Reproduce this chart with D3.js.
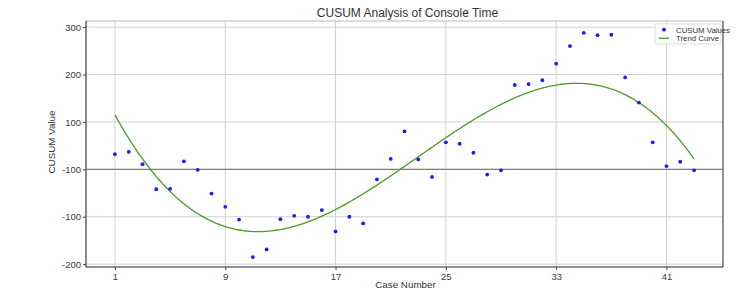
<!DOCTYPE html>
<html><head><meta charset="utf-8">
<script src="https://cdn.jsdelivr.net/npm/d3@7"></script>
<style>
html,body{margin:0;padding:0;background:#fff;}
text{font-family:"Liberation Sans",Arial,sans-serif;}
</style></head>
<body><svg id="c" width="750" height="297"></svg>
<script>
const caseNumbers = d3.range(1, 44);
const cusumValues = [32,37,11,-42,-41,17,-1,-51,-79,-106,-185,-169,-105,-98,-100,-86,-131,-100,-114,-21,22,80,21,-16,57,54,35,-11,-2,178,180,188,223,260,288,283,284,194,141,57,7,16,-2];
const xTickValues = [1,9,17,25,33,41];
const yTickValues = [300,200,100,0,-100,-200];
const yTickLabels = ["300","200","100","-100","-100","-200"];

// cubic least-squares trend computed from the data
function polyfit(xs, ys, deg){
  const n = deg+1;
  const A = Array.from({length:n},()=>new Array(n+1).fill(0));
  for(let k=0;k<xs.length;k++){
    for(let i=0;i<n;i++){
      for(let j=0;j<n;j++) A[i][j]+=Math.pow(xs[k],i+j);
      A[i][n]+=ys[k]*Math.pow(xs[k],i);
    }
  }
  for(let i=0;i<n;i++){
    let p=i; for(let r=i+1;r<n;r++) if(Math.abs(A[r][i])>Math.abs(A[p][i])) p=r;
    [A[i],A[p]]=[A[p],A[i]];
    for(let r=0;r<n;r++){ if(r===i) continue; const f=A[r][i]/A[i][i]; for(let c=i;c<=n;c++) A[r][c]-=f*A[i][c]; }
  }
  return A.map((row,i)=>row[n]/row[i]);
}
const coef = polyfit(caseNumbers, cusumValues, 3);
const trendX = d3.range(1, 43.001, 0.1);
const trend = trendX.map(x=>({x, y: coef.reduce((s,c,i)=>s+c*Math.pow(x,i),0)}));

const svg = d3.select("#c");
const L=86, R=723, T=21, B=267;
const xExt = d3.extent(caseNumbers), xPad=(xExt[1]-xExt[0])*0.05;
const x = d3.scaleLinear().domain([xExt[0]-xPad, xExt[1]+xPad]).range([L,R]);
const y = d3.scaleLinear().domain([-206, 313]).range([B,T]);

// grid
svg.append("g").selectAll("line").data(xTickValues).join("line")
  .attr("x1",d=>x(d)).attr("x2",d=>x(d)).attr("y1",T).attr("y2",B)
  .attr("stroke","#d0d0d0").attr("stroke-width",1);
svg.append("g").selectAll("line").data(yTickValues).join("line")
  .attr("x1",L).attr("x2",R).attr("y1",d=>y(d)).attr("y2",d=>y(d))
  .attr("stroke","#d0d0d0").attr("stroke-width",1);

// zero line
svg.append("line").attr("x1",L).attr("x2",R).attr("y1",y(0)).attr("y2",y(0))
  .attr("stroke","#808080").attr("stroke-width",1.2);

// frame
svg.append("rect").attr("x",L).attr("y",T).attr("width",R-L).attr("height",B-T)
  .attr("fill","none").attr("stroke","#bbb").attr("stroke-width",1);
svg.append("line").attr("x1",L).attr("x2",L).attr("y1",T).attr("y2",B).attr("stroke","#444").attr("stroke-width",1.1);
svg.append("line").attr("x1",L).attr("x2",R).attr("y1",B).attr("y2",B).attr("stroke","#444").attr("stroke-width",1.1);
svg.append("line").attr("x1",R).attr("x2",R).attr("y1",T).attr("y2",B).attr("stroke","#555").attr("stroke-width",1.1);

// axes
const xAxis = d3.axisBottom(x).tickValues(xTickValues).tickSize(3).tickPadding(3);
const gx = svg.append("g").attr("transform",`translate(0,${B})`).call(xAxis);
gx.select(".domain").remove();
gx.selectAll("line").attr("stroke","#444");
gx.selectAll("text").attr("fill","#3a3a3a").attr("font-size",9.5);

const yAxis = d3.axisLeft(y).tickValues(yTickValues).tickFormat((d,i)=>yTickLabels[i]).tickSize(3).tickPadding(2);
const gy = svg.append("g").attr("transform",`translate(${L},0)`).call(yAxis);
gy.select(".domain").remove();
gy.selectAll("line").attr("stroke","#444");
gy.selectAll("text").attr("fill","#3a3a3a").attr("font-size",9.5);

// trend
svg.append("path").datum(trend)
  .attr("d", d3.line().x(d=>x(d.x)).y(d=>y(d.y)))
  .attr("fill","none").attr("stroke","#4e9a2c").attr("stroke-width",1.3);

// points
svg.append("g").selectAll("circle").data(caseNumbers).join("circle")
  .attr("cx",(d)=>x(d)).attr("cy",(d,i)=>y(cusumValues[i])).attr("r",1.9)
  .attr("fill","#1a1aff");

// title & labels
svg.append("text").attr("x",(L+R)/2+3).attr("y",16.5).attr("text-anchor","middle")
  .attr("font-size",12).attr("fill","#333").text("CUSUM Analysis of Console Time");
svg.append("text").attr("x",(L+R)/2+1).attr("y",288).attr("text-anchor","middle")
  .attr("font-size",9.8).attr("fill","#333").text("Case Number");
svg.append("text").attr("transform",`translate(55,${(T+B)/2-2}) rotate(-90)`).attr("text-anchor","middle")
  .attr("font-size",9.8).attr("fill","#333").text("CUSUM Value");

// legend
const lg = svg.append("g").attr("transform",`translate(655,24)`);
lg.append("rect").attr("width",66).attr("height",20).attr("fill","#fff").attr("fill-opacity",0.85)
  .attr("stroke","#ddd").attr("rx",1.5);
lg.append("circle").attr("cx",9).attr("cy",5.7).attr("r",1.9).attr("fill","#1a1aff");
lg.append("line").attr("x1",4).attr("x2",14).attr("y1",14.3).attr("y2",14.3).attr("stroke","#4e9a2c").attr("stroke-width",1.3);
lg.append("text").attr("x",21).attr("y",8.5).attr("font-size",7.8).attr("fill","#333").text("CUSUM Values");
lg.append("text").attr("x",21).attr("y",17.2).attr("font-size",7.8).attr("fill","#333").text("Trend Curve");
</script></body></html>
